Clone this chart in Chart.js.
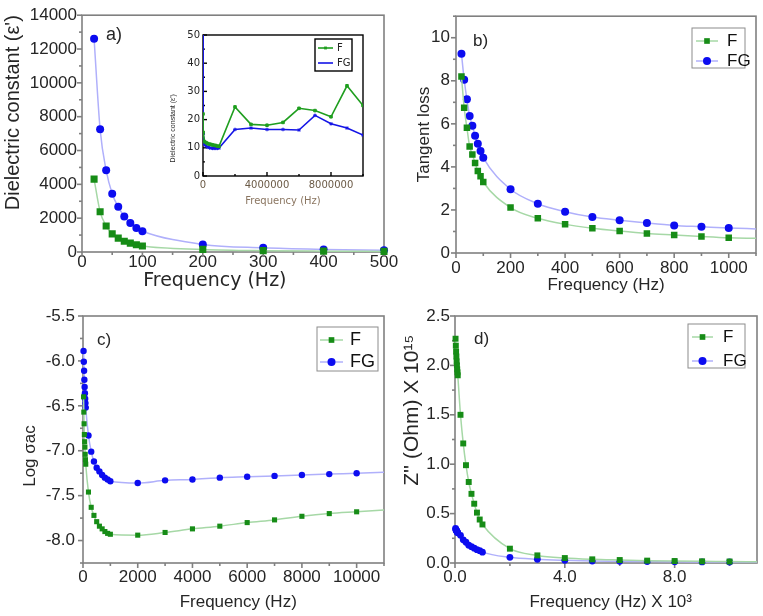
<!DOCTYPE html>
<html>
<head>
<meta charset="utf-8">
<title>Dielectric properties of F and FG</title>
<script src="https://cdn.jsdelivr.net/npm/chart.js@4.4.1/dist/chart.umd.min.js"></script>
<style>
  body { margin: 0; background: #fff; }
  #stage { position: relative; width: 763px; height: 616px; }
  #stage canvas { position: absolute; left: 0; top: 0; }
</style>
</head>
<body>
<div id="stage">
  <canvas id="panelA" width="763" height="616"></canvas>
  <canvas id="panelB" width="763" height="616"></canvas>
  <canvas id="panelC" width="763" height="616"></canvas>
  <canvas id="panelD" width="763" height="616"></canvas>
  <canvas id="panelInset" width="763" height="616"></canvas>
</div>
<script>
/* DATA */

// a) dielectric constant
const aFreq = [20, 30, 40, 50, 60, 70, 80, 90, 100, 200, 300, 400, 500];
const aF = [4310, 2380, 1540, 1070, 820, 640, 525, 430, 350, 155, 80, 50, 35];
const aFG = [12610, 7250, 4830, 3450, 2670, 2105, 1715, 1420, 1230, 450, 250, 155, 100];
const aXTicks = [0, 100, 200, 300, 400, 500];
const aYTicks = [0, 2000, 4000, 6000, 8000, 10000, 12000, 14000];

// a) inset, high frequency
const insetFreq = [1000, 10000, 100000, 200000, 300000, 400000, 500000, 600000, 700000, 800000, 900000, 1000000,
  2000000, 3000000, 4000000, 5000000, 6000000, 7000000, 8000000, 9000000, 10000000];
const insetF = [22, 15.5, 12.2, 11.8, 11.5, 11.3, 11.2, 11.0, 10.9, 10.8, 10.6, 10.5,
  24.5, 18.3, 18.0, 19.0, 24.0, 23.2, 21.0, 32.0, 25.0];
const insetFG = [80, 15.0, 11.2, 10.6, 10.2, 10.0, 9.9, 9.8, 9.8, 9.8, 9.8, 9.9,
  16.5, 17.0, 16.5, 16.5, 16.3, 21.5, 18.5, 17.0, 14.5];
const insetXTicks = [0, 4000000, 8000000];
const insetYTicks = [0, 10, 20, 30, 40, 50];

// b) tangent loss
const bFreq = [20, 30, 40, 50, 60, 70, 80, 90, 100, 200, 300, 400, 500, 600, 700, 800, 900, 1000];
const bF = [8.2, 6.75, 5.82, 4.95, 4.58, 4.18, 3.81, 3.56, 3.30, 2.11, 1.61, 1.33, 1.15, 1.02, 0.91, 0.84, 0.77, 0.71];
const bFG = [9.26, 8.05, 7.14, 6.36, 5.91, 5.45, 5.08, 4.74, 4.43, 2.96, 2.29, 1.92, 1.67, 1.52, 1.39, 1.28, 1.22, 1.16];
const bTail = [1100, 0.68, 1.12]; // fitted line runs on to the axis end: x, F, FG
const bXTicks = [0, 200, 400, 600, 800, 1000];
const bYTicks = [0, 2, 4, 6, 8, 10];

// c) log sigma ac
const cFreq = [20, 30, 40, 50, 60, 70, 80, 90, 100, 200, 300, 400, 500, 600, 700, 800, 900, 1000,
  2000, 3000, 4000, 5000, 6000, 7000, 8000, 9000, 10000];
const cF = [-6.40, -6.57, -6.70, -6.82, -6.90, -6.96, -7.04, -7.10, -7.15, -7.46, -7.63, -7.72, -7.79, -7.84, -7.87, -7.90, -7.92, -7.93,
  -7.94, -7.91, -7.87, -7.84, -7.80, -7.77, -7.73, -7.70, -7.68];
const cFG = [-5.89, -6.01, -6.11, -6.21, -6.29, -6.36, -6.42, -6.47, -6.52, -6.83, -7.01, -7.12, -7.19, -7.23, -7.27, -7.30, -7.32, -7.34,
  -7.36, -7.33, -7.32, -7.30, -7.29, -7.28, -7.27, -7.26, -7.25];
const cTail = [11000, -7.66, -7.24];
const cXTicks = [0, 2000, 4000, 6000, 8000, 10000];
const cYTicks = [-8.0, -7.5, -7.0, -6.5, -6.0, -5.5];

// d) Z'' (frequency in kHz)
const dFreq = [0.02, 0.03, 0.04, 0.05, 0.06, 0.07, 0.08, 0.09, 0.1, 0.2, 0.3, 0.4, 0.5, 0.6, 0.7, 0.8, 0.9, 1,
  2, 3, 4, 5, 6, 7, 8, 9, 10];
const dF = [2.27, 2.20, 2.14, 2.09, 2.04, 2.00, 1.96, 1.93, 1.90, 1.50, 1.21, 0.99, 0.82, 0.70, 0.60, 0.51, 0.44, 0.39,
  0.145, 0.077, 0.05, 0.037, 0.03, 0.024, 0.02, 0.017, 0.015];
const dFG = [0.35, 0.34, 0.335, 0.33, 0.325, 0.32, 0.315, 0.31, 0.305, 0.28, 0.235, 0.21, 0.18, 0.165, 0.15, 0.135, 0.125, 0.11,
  0.057, 0.037, 0.027, 0.02, 0.017, 0.014, 0.012, 0.011, 0.01];
const dTail = [11, 0.012, 0.009];
const dXTicks = [0, 4, 8];
const dYTicks = [0, 0.5, 1.0, 1.5, 2.0, 2.5];

/* STYLE */

const W = 763, H = 616;
const SANS = "'Liberation Sans', Arial, sans-serif";
const WIDE = "'DejaVu Sans', sans-serif";
const TEXT = '#262626';
const FRAME = '#808080';

const lookF = { line: '#a6d8a6', mark: '#168c16', shape: 'rect' };
const lookFG = { line: '#b0b0fb', mark: '#0c0cf0', shape: 'circle' };

function points(xs, ys, tailX, tailY) {
  const pts = xs.map((x, i) => ({ x, y: ys[i] }));
  if (tailX !== undefined) pts.push({ x: tailX, y: tailY });
  return pts;
}

function dataset(label, xs, ys, look, radius, tailX, tailY) {
  const n = xs.length;
  return {
    label,
    data: points(xs, ys, tailX, tailY),
    borderColor: look.line,
    borderWidth: 1.5,
    pointStyle: look.shape,
    pointRadius: ctx => (ctx.dataIndex < n ? radius : 0),
    pointBackgroundColor: look.mark,
    pointBorderColor: look.mark,
    pointBorderWidth: 0,
    cubicInterpolationMode: 'monotone',
    clip: 6
  };
}

/* PLUGINS */

// box frame with major and minor tick marks
const framePlugin = {
  id: 'frame',
  beforeDatasetsDraw(chart, args, o) {
    const { ctx, chartArea: a } = chart;
    const xs = chart.scales.x, ys = chart.scales.y;
    ctx.save();
    if (o.fill) {
      ctx.fillStyle = o.fill;
      ctx.fillRect(a.left, a.top, a.right - a.left, a.bottom - a.top);
    }
    ctx.strokeStyle = o.color;
    ctx.lineWidth = o.width;
    ctx.strokeRect(a.left, a.top, a.right - a.left, a.bottom - a.top);
    const dir = o.inward ? -1 : 1;
    const mark = (scale, v, len) => {
      const p = scale.getPixelForValue(v);
      ctx.beginPath();
      if (scale.axis === 'x') {
        ctx.moveTo(p, a.bottom);
        ctx.lineTo(p, a.bottom + dir * len);
      } else {
        ctx.moveTo(a.left, p);
        ctx.lineTo(a.left - dir * len, p);
      }
      ctx.stroke();
    };
    [[xs, o.xMinor], [ys, o.yMinor]].forEach(([scale, step]) => {
      const majors = scale.ticks.map(t => t.value);
      majors.forEach(v => mark(scale, v, o.major));
      for (let v = Math.ceil(scale.min / step) * step; v <= scale.max + step * 1e-6; v += step) {
        if (majors.some(m => Math.abs(m - v) < step * 1e-3)) continue;
        mark(scale, v, o.minor);
      }
    });
    ctx.restore();
  }
};

// framed legend with line + marker samples, and the panel tag
const decorPlugin = {
  id: 'decor',
  afterDatasetsDraw(chart, args, o) {
    const { ctx } = chart;
    ctx.save();
    if (o.tag) {
      ctx.fillStyle = TEXT;
      ctx.font = o.tag.size + 'px ' + SANS;
      ctx.textBaseline = 'middle';
      ctx.textAlign = 'left';
      ctx.fillText(o.tag.text, o.tag.x, o.tag.y);
    }
    const L = o.legend;
    if (L) {
      const [x0, y0, x1, y1] = L.box;
      ctx.fillStyle = '#fff';
      ctx.fillRect(x0, y0, x1 - x0, y1 - y0);
      ctx.strokeStyle = L.border;
      ctx.lineWidth = L.borderWidth;
      ctx.strokeRect(x0, y0, x1 - x0, y1 - y0);
      chart.data.datasets.forEach((ds, i) => {
        const y = L.rows[i];
        ctx.strokeStyle = ds.borderColor;
        ctx.lineWidth = ds.borderWidth;
        ctx.beginPath();
        ctx.moveTo(L.line[0], y);
        ctx.lineTo(L.line[1], y);
        ctx.stroke();
        ctx.fillStyle = ds.pointBackgroundColor;
        ctx.strokeStyle = ds.pointBorderColor;
        Chart.helpers.drawPoint(ctx, { pointStyle: ds.pointStyle, radius: L.radius, borderWidth: 0, rotation: 0 },
          (L.line[0] + L.line[1]) / 2, y);
        ctx.fillStyle = L.color;
        ctx.font = L.size + 'px ' + (L.family || SANS);
        ctx.textBaseline = 'middle';
        ctx.textAlign = 'left';
        ctx.fillText(ds.label, L.textX, y);
      });
    }
    ctx.restore();
  }
};

/* PANELS */

function axis(pos, min, max, ticks, fmt, size, tickOpt, titleOpt) {
  return {
    type: 'linear',
    position: pos,
    min, max,
    afterBuildTicks: s => { s.ticks = ticks.map(v => ({ value: v })); },
    afterFit: s => { if (pos === 'left') s.width = size; else s.height = size; },
    grid: { display: false, drawTicks: false },
    border: { display: false },
    ticks: {
      padding: tickOpt.pad,
      color: tickOpt.color || TEXT,
      font: { size: tickOpt.size, family: tickOpt.family || SANS },
      maxRotation: 0,
      autoSkip: false,
      callback: fmt
    },
    title: {
      display: true,
      text: titleOpt.text,
      color: titleOpt.color || TEXT,
      align: titleOpt.align || 'center',
      padding: 0,
      font: { size: titleOpt.size, family: titleOpt.family || SANS }
    }
  };
}

function makePanel(id, p) {
  // place the plot box exactly: layout padding + fixed axis sizes
  const yLeft = p.yTitle.x - p.yTitle.size * 0.6;
  const xBottom = p.xTitle.y + p.xTitle.size * 0.6;
  return new Chart(document.getElementById(id), {
    type: 'line',
    data: { datasets: p.datasets },
    plugins: [framePlugin, decorPlugin],
    options: {
      responsive: false,
      animation: false,
      devicePixelRatio: 1,
      events: [],
      layout: {
        autoPadding: false,
        padding: { left: yLeft, top: p.area.t, right: W - p.area.r, bottom: H - xBottom }
      },
      scales: {
        x: axis('bottom', p.x.min, p.x.max, p.x.ticks, p.x.fmt, xBottom - p.area.b,
          { pad: p.x.pad, size: p.tickSize, color: p.x.color, family: p.x.family }, p.xTitle),
        y: axis('left', p.y.min, p.y.max, p.y.ticks, p.y.fmt, p.area.l - yLeft,
          { pad: p.y.pad, size: p.tickSize, color: p.y.color, family: p.y.family }, p.yTitle)
      },
      plugins: {
        legend: { display: false },
        tooltip: { enabled: false },
        frame: p.frame,
        decor: p.decor
      }
    }
  });
}

const int = v => String(v);
const oneDec = v => v.toFixed(1);
const mainFrame = (xMinor, yMinor) => ({ color: FRAME, width: 1.6, major: 5, minor: 3, xMinor, yMinor, inward: false });
const mainLegend = (box, rows, line, textX, size) => ({ box, rows, line, textX, size, radius: 4, border: '#8c8c8c', borderWidth: 1, color: '#111' });

makePanel('panelA', {
  area: { l: 82, r: 384, t: 14, b: 252 },
  tickSize: 17,
  x: { min: 0, max: 500, ticks: aXTicks, fmt: int, pad: 0 },
  y: { min: 0, max: 14000, ticks: aYTicks, fmt: int, pad: 5 },
  xTitle: { text: 'Frequency (Hz)' + '      ', size: 19, y: 281, family: WIDE },
  yTitle: { text: "Dielectric constant (ε')", size: 20, x: 13, align: 'end' },
  datasets: [
    dataset('F', aFreq, aF, lookF, 5),
    dataset('FG', aFreq, aFG, lookFG, 4)
  ],
  frame: mainFrame(50, 1000),
  decor: { tag: { text: 'a)', x: 106, y: 35, size: 18 } }
});

makePanel('panelB', {
  area: { l: 456, r: 756, t: 15, b: 253 },
  tickSize: 17,
  x: { min: 0, max: 1100, ticks: bXTicks, fmt: int, pad: 5 },
  y: { min: 0, max: 11, ticks: bYTicks, fmt: int, pad: 6 },
  xTitle: { text: 'Frequency (Hz)', size: 17, y: 285 },
  yTitle: { text: 'Tangent loss', size: 17, x: 424 },
  datasets: [
    dataset('F', bFreq, bF, lookF, 4.6, bTail[0], bTail[1]),
    dataset('FG', bFreq, bFG, lookFG, 4, bTail[0], bTail[2])
  ],
  frame: mainFrame(100, 1),
  decor: {
    tag: { text: 'b)', x: 473, y: 41, size: 17 },
    legend: mainLegend([692, 28, 745, 68], [41, 61], [696, 718], 727, 17)
  }
});

makePanel('panelC', {
  area: { l: 83, r: 384, t: 316, b: 563 },
  tickSize: 17,
  x: { min: 0, max: 11000, ticks: cXTicks, fmt: int, pad: 4 },
  y: { min: -8.25, max: -5.5, ticks: cYTicks, fmt: oneDec, pad: 8 },
  xTitle: { text: '  Frequency (Hz)', size: 17, y: 602 },
  yTitle: { text: 'Log σac       ', size: 17, x: 30 },
  datasets: [
    dataset('F', cFreq, cF, lookF, 3.6, cTail[0], cTail[1]),
    dataset('FG', cFreq, cFG, lookFG, 3.2, cTail[0], cTail[2])
  ],
  frame: mainFrame(1000, 0.25),
  decor: {
    tag: { text: 'c)', x: 97, y: 340, size: 17 },
    legend: mainLegend([317, 327, 378, 371], [340, 362], [320, 343], 350, 18)
  }
});

makePanel('panelD', {
  area: { l: 455, r: 757, t: 316, b: 563 },
  tickSize: 17,
  x: { min: 0, max: 11, ticks: dXTicks, fmt: oneDec, pad: 4 },
  y: { min: 0, max: 2.5, ticks: dYTicks, fmt: oneDec, pad: 5 },
  xTitle: { text: '  Frequency (Hz) X 10³', size: 17, y: 602 },
  yTitle: { text: "          Z'' (Ohm) X 10¹⁵", size: 21, x: 412 },
  datasets: [
    dataset('F', dFreq, dF, lookF, 4.2, dTail[0], dTail[1]),
    dataset('FG', dFreq, dFG, lookFG, 3.4, dTail[0], dTail[2])
  ],
  frame: mainFrame(2, 0.25),
  decor: {
    tag: { text: 'd)', x: 474, y: 339, size: 17 },
    legend: mainLegend([688, 324, 745, 368], [337, 361], [692, 713], 723, 17)
  }
});

// inset over panel a
const insetLine = (label, ys, color, shape) => ({
  label,
  data: points(insetFreq, ys),
  borderColor: color,
  borderWidth: 1.6,
  pointStyle: shape,
  pointRadius: 1.8,
  pointBackgroundColor: color,
  pointBorderColor: color,
  pointBorderWidth: 1,
  clip: 0
});

makePanel('panelInset', {
  area: { l: 203, r: 363, t: 35, b: 176 },
  tickSize: 10,
  x: { min: 0, max: 10000000, ticks: insetXTicks, fmt: int, pad: 3, color: '#6b5a46', family: WIDE },
  y: { min: 0, max: 50, ticks: insetYTicks, fmt: int, pad: 3, family: WIDE },
  xTitle: { text: 'Frequency (Hz)', size: 10, y: 201, color: '#8a7560', family: WIDE },
  yTitle: { text: "       Dielectric constant (ε')", size: 7, x: 173, align: 'start' },
  datasets: [
    insetLine('F', insetF, '#1f9e1f', 'rect'),
    insetLine('FG', insetFG, '#1414e6', 'star')
  ],
  frame: { color: '#000', width: 1.4, major: 4, minor: 2, xMinor: 2000000, yMinor: 5, inward: true, fill: '#fff' },
  decor: {
    legend: { box: [315, 39, 352, 71], rows: [48, 63], line: [318, 333], textX: 337, size: 10, radius: 2,
      border: '#000', borderWidth: 1.4, color: '#222', family: WIDE }
  }
});
</script>
</body>
</html>
